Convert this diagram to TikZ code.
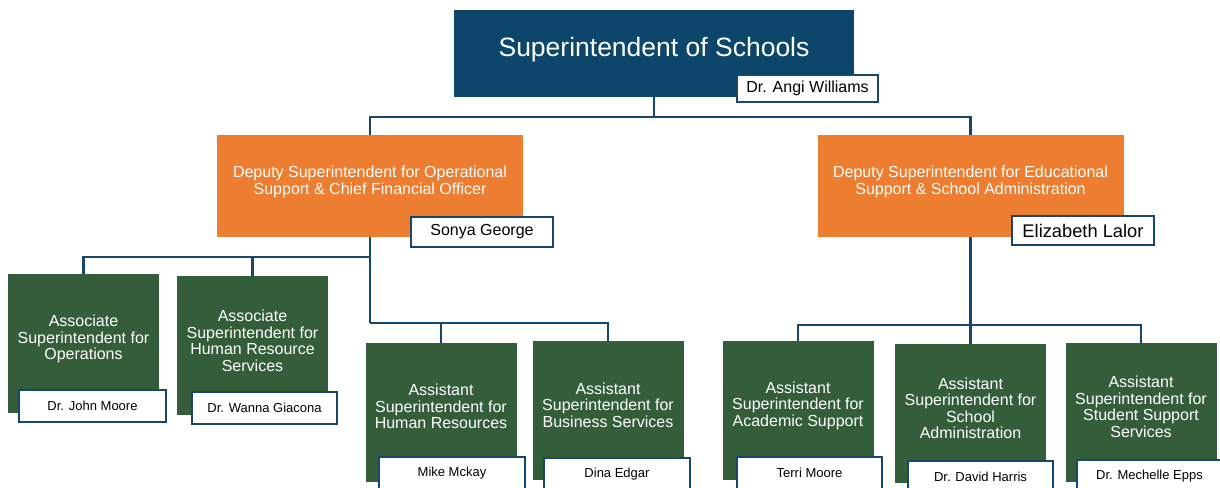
\documentclass[tikz,border=0pt]{standalone}
\usepackage{fontspec}
\setmainfont{Liberation Sans}
\definecolor{navy}{HTML}{0C466A}
\definecolor{linknavy}{HTML}{17476B}
\definecolor{deporange}{HTML}{ED7D31}
\definecolor{unitgreen}{HTML}{345E3A}
\begin{document}
\begin{tikzpicture}[x=1pt,y=-1pt,
  every node/.style={inner sep=0pt,outer sep=0pt},
  topbox/.style={fill=navy,minimum width=400pt,minimum height=87pt},
  depbox/.style={fill=deporange,minimum width=306pt,minimum height=102pt},
  unitbox/.style={fill=unitgreen,minimum width=151pt,minimum height=139pt},
  whitetext/.style={text=white,align=center,font=\fontsize{16}{16.5}\selectfont},
  namebox/.style={fill=white,draw=linknavy,line width=2.4pt,minimum width=145pt,minimum height=32pt,font=\fontsize{13}{15}\selectfont},
  link/.style={draw=linknavy,line width=2.8pt}]
\useasboundingbox (0,0) rectangle (1220,487);
\clip (0,0) rectangle (1220,487);

% superintendent
\node[topbox] (sup) at (654,53.5) {};
\node[text=white,font=\fontsize{26.5}{28}\selectfont] (supt) at (654,50) {Superintendent of Schools};

% deputies
\node[depbox] (dep1) at (370,186) {};
\node[depbox] (dep2) at (970.5,186) {};
\node[whitetext] (dep1t) at (370,182) {Deputy Superintendent for Operational\\Support \& Chief Financial Officer};
\node[whitetext] (dep2t) at (970.5,182) {Deputy Superintendent for Educational\\Support \& School Administration};

% unit boxes
\node[unitbox] (b1) at (83.5,343.5) {};
\node[unitbox] (b2) at (252.5,345.5) {};
\node[unitbox] (b3) at (441,412) {};
\node[unitbox] (b4) at (608,410.5) {};
\node[unitbox] (b5) at (798,410.5) {};
\node[unitbox] (b6) at (970.5,413) {};
\node[unitbox] (b7) at (1141,412) {};

\node[whitetext] (b1t) at (83.5,339) {Associate\\Superintendent for\\Operations};
\node[whitetext] (b2t) at (252.5,341) {Associate\\Superintendent for\\Human Resource\\Services};
\node[whitetext] (b3t) at (441,406.5) {Assistant\\Superintendent for\\Human Resources};
\node[whitetext] (b4t) at (608,405) {Assistant\\Superintendent for\\Business Services};
\node[whitetext] (b5t) at (798,405.5) {Assistant\\Superintendent for\\Academic Support};
\node[whitetext] (b6t) at (970.5,408.5) {Assistant\\Superintendent for\\School\\Administration};
\node[whitetext] (b7t) at (1141,407) {Assistant\\Superintendent for\\Student Support\\Services};

% connectors
\coordinate (bus) at (654,117);
\coordinate (lj1) at (370,257);
\coordinate (lj2) at (370,323);
\coordinate (rj) at (970.5,325);
\draw[link] (sup.south) -- (bus);
\draw[link] (dep1.north) |- (bus) -| (dep2.north);
\draw[link] (dep1.south) -- (lj2);
\draw[link] (lj1) -| (b1.north);
\draw[link] (lj1) -| (b2.north);
\draw[link] (lj2) -| (b3.north);
\draw[link] (lj2) -| (b4.north);
\draw[link] (dep2.south) -- (b6.north);
\draw[link] (rj) -| (b5.north);
\draw[link] (rj) -| (b7.north);

% name tags
\node[namebox,line width=1.3pt,minimum width=141pt,minimum height=27pt,font=\fontsize{16}{18}\selectfont] (n0) at (807.5,88.5) {Dr. Angi Williams};
\node[namebox,line width=2.8pt,minimum width=142pt,minimum height=30pt,font=\fontsize{16}{18}\selectfont] (nd1) at (482,232) {Sonya George};
\node[namebox,line width=2.8pt,minimum width=142pt,minimum height=29pt,font=\fontsize{18.3}{20}\selectfont] (nd2) at (1083,230.5) {Elizabeth Lalor};
\node[namebox,minimum width=147pt] (n1) at (92.5,406) {Dr. John Moore};
\node[namebox] (n2) at (264.5,408) {Dr. Wanna Giacona};
\node[namebox,minimum width=146pt] (n3) at (452,473) {Mike Mckay};
\node[namebox,minimum width=146pt] (n4) at (617,474) {Dina Edgar};
\node[namebox] (n5) at (809.5,473) {Terri Moore};
\node[namebox] (n6) at (980.5,477) {Dr. David Harris};
\node[namebox] (n7) at (1149.5,476) {Dr. Mechelle Epps};
\end{tikzpicture}
\end{document}
